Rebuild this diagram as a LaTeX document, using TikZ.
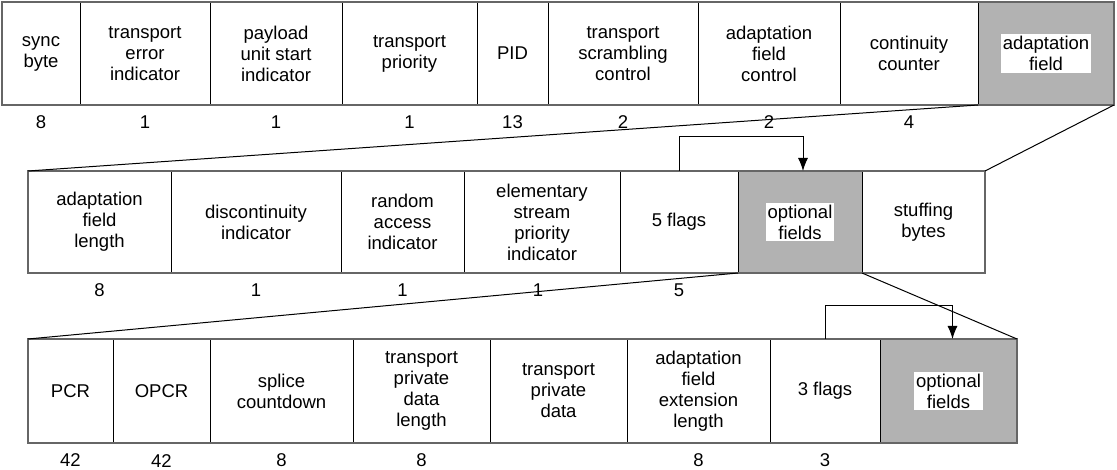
\documentclass[tikz,border=0pt]{standalone}
\usepackage{fontspec}
\setmainfont{Liberation Sans}
\usepackage{tikz}
\usetikzlibrary{positioning,fit,arrows.meta}
\definecolor{fieldgrey}{RGB}{178,178,178}

\begin{document}
\begin{tikzpicture}[x=1pt, y=-1pt, font=\fontsize{18.5}{21}\selectfont]
\tikzstyle{field}=[rectangle, draw=black, line width=1pt, align=center, inner sep=0pt, outer sep=0pt]
\tikzstyle{shaded}=[field, fill=fieldgrey]
\tikzstyle{bits}=[yshift=-7pt]
\tikzstyle{hilite}=[fill=white, inner sep=2pt, align=center]
\tikzstyle{frame}=[rectangle, draw=black!60, line width=2pt, inner sep=0pt]
\tikzstyle{connect}=[-{Latex[length=13pt,width=10pt]}, line width=1pt]
\tikzstyle{zoom}=[line width=1pt]
\useasboundingbox (0,0) rectangle (1117,470);
  % transport packet header
  \begin{scope}[field/.append style={minimum height=103pt}]
  \node[field, minimum width=78pt, anchor=north west] (sync) [label={[bits]below:8}] at (2,2) {sync\\byte};
  \node[field, minimum width=130pt] (tei) [right=0pt of sync, label={[bits]below:1}] {transport\\error\\indicator};
  \node[field, minimum width=132pt] (pusi) [right=0pt of tei, label={[bits]below:1}] {payload\\unit start\\indicator};
  \node[field, minimum width=135pt] (prio) [right=0pt of pusi, label={[bits]below:1}] {transport\\priority};
  \node[field, minimum width=71pt] (pid) [right=0pt of prio, label={[bits]below:13}] {PID};
  \node[field, minimum width=150pt] (tsc) [right=0pt of pid, label={[bits]below:2}] {transport\\scrambling\\control};
  \node[field, minimum width=142pt] (afc) [right=0pt of tsc, label={[bits]below:2}] {adaptation\\field\\control};
  \node[field, minimum width=138pt] (cc) [right=0pt of afc, label={[bits]below:4}] {continuity\\counter};
  \node[shaded, minimum width=136pt] (adapt) [right=0pt of cc, label={[hilite]center:adaptation\\field}] {};
  \end{scope}
  \node[frame, fit=(sync) (adapt)] (hdr) {};
  % adaptation field
  \begin{scope}[field/.append style={minimum height=102pt}]
  \node[field, minimum width=143pt, anchor=north west] (afl) [label={[bits]below:8}] at (28,171) {adaptation\\field\\length};
  \node[field, minimum width=170pt] (disc) [right=0pt of afl, label={[bits]below:1}] {discontinuity\\indicator};
  \node[field, minimum width=123pt] (rai) [right=0pt of disc, label={[bits]below:1}] {random\\access\\indicator};
  \node[field, minimum width=156pt] (espi) [right=0pt of rai, label={[bits, xshift=-4pt]below:1}] {elementary\\stream\\priority\\indicator};
  \node[field, minimum width=118pt] (flagsa) [right=0pt of espi, label={[bits]below:5}] {5 flags};
  \node[shaded, minimum width=124pt] (opt) [right=0pt of flagsa, label={[hilite]center:optional\\fields}] {};
  \node[field, minimum width=123pt] (stuff) [right=0pt of opt] {stuffing\\bytes};
  \end{scope}
  \node[frame, fit=(afl) (stuff)] (adf) {};
  % optional fields
  \begin{scope}[field/.append style={minimum height=104pt}]
  \node[field, minimum width=85pt, anchor=north west] (pcr) [label={[bits]below:42}] at (28,339) {PCR};
  \node[field, minimum width=97pt] (opcr) [right=0pt of pcr, label={[bits, yshift=-1.5pt]below:42}] {OPCR};
  \node[field, minimum width=143pt] (splice) [right=0pt of opcr, label={[bits]below:8}] {splice\\countdown};
  \node[field, minimum width=137pt] (tpdl) [right=0pt of splice, label={[bits]below:8}] {transport\\private\\data\\length};
  \node[field, minimum width=137pt] (tpd) [right=0pt of tpdl] {transport\\private\\data};
  \node[field, minimum width=143pt] (afel) [right=0pt of tpd, label={[bits]below:8}] {adaptation\\field\\extension\\length};
  \node[field, minimum width=110pt] (flagsb) [right=0pt of afel, label={[bits]below:3}] {3 flags};
  \node[shaded, minimum width=137pt] (optx) [right=0pt of flagsb, label={[hilite]center:optional\\fields}] {};
  \end{scope}
  \node[frame, fit=(pcr) (optx)] (optf) {};
  \path (adapt.south west) edge [zoom] (afl.north west)
        (adapt.south east) edge [zoom] (stuff.north east)
        (opt.south west) edge [zoom] (pcr.north west)
        (opt.south east) edge [zoom] (optx.north east);
  \draw[connect] (flagsa.north) -- ++(0,-34) -| ([xshift=3pt]opt.north);
  \draw[connect] (flagsb.north) -- ++(0,-33) -| ([xshift=4pt]optx.north);
\end{tikzpicture}
\end{document}
